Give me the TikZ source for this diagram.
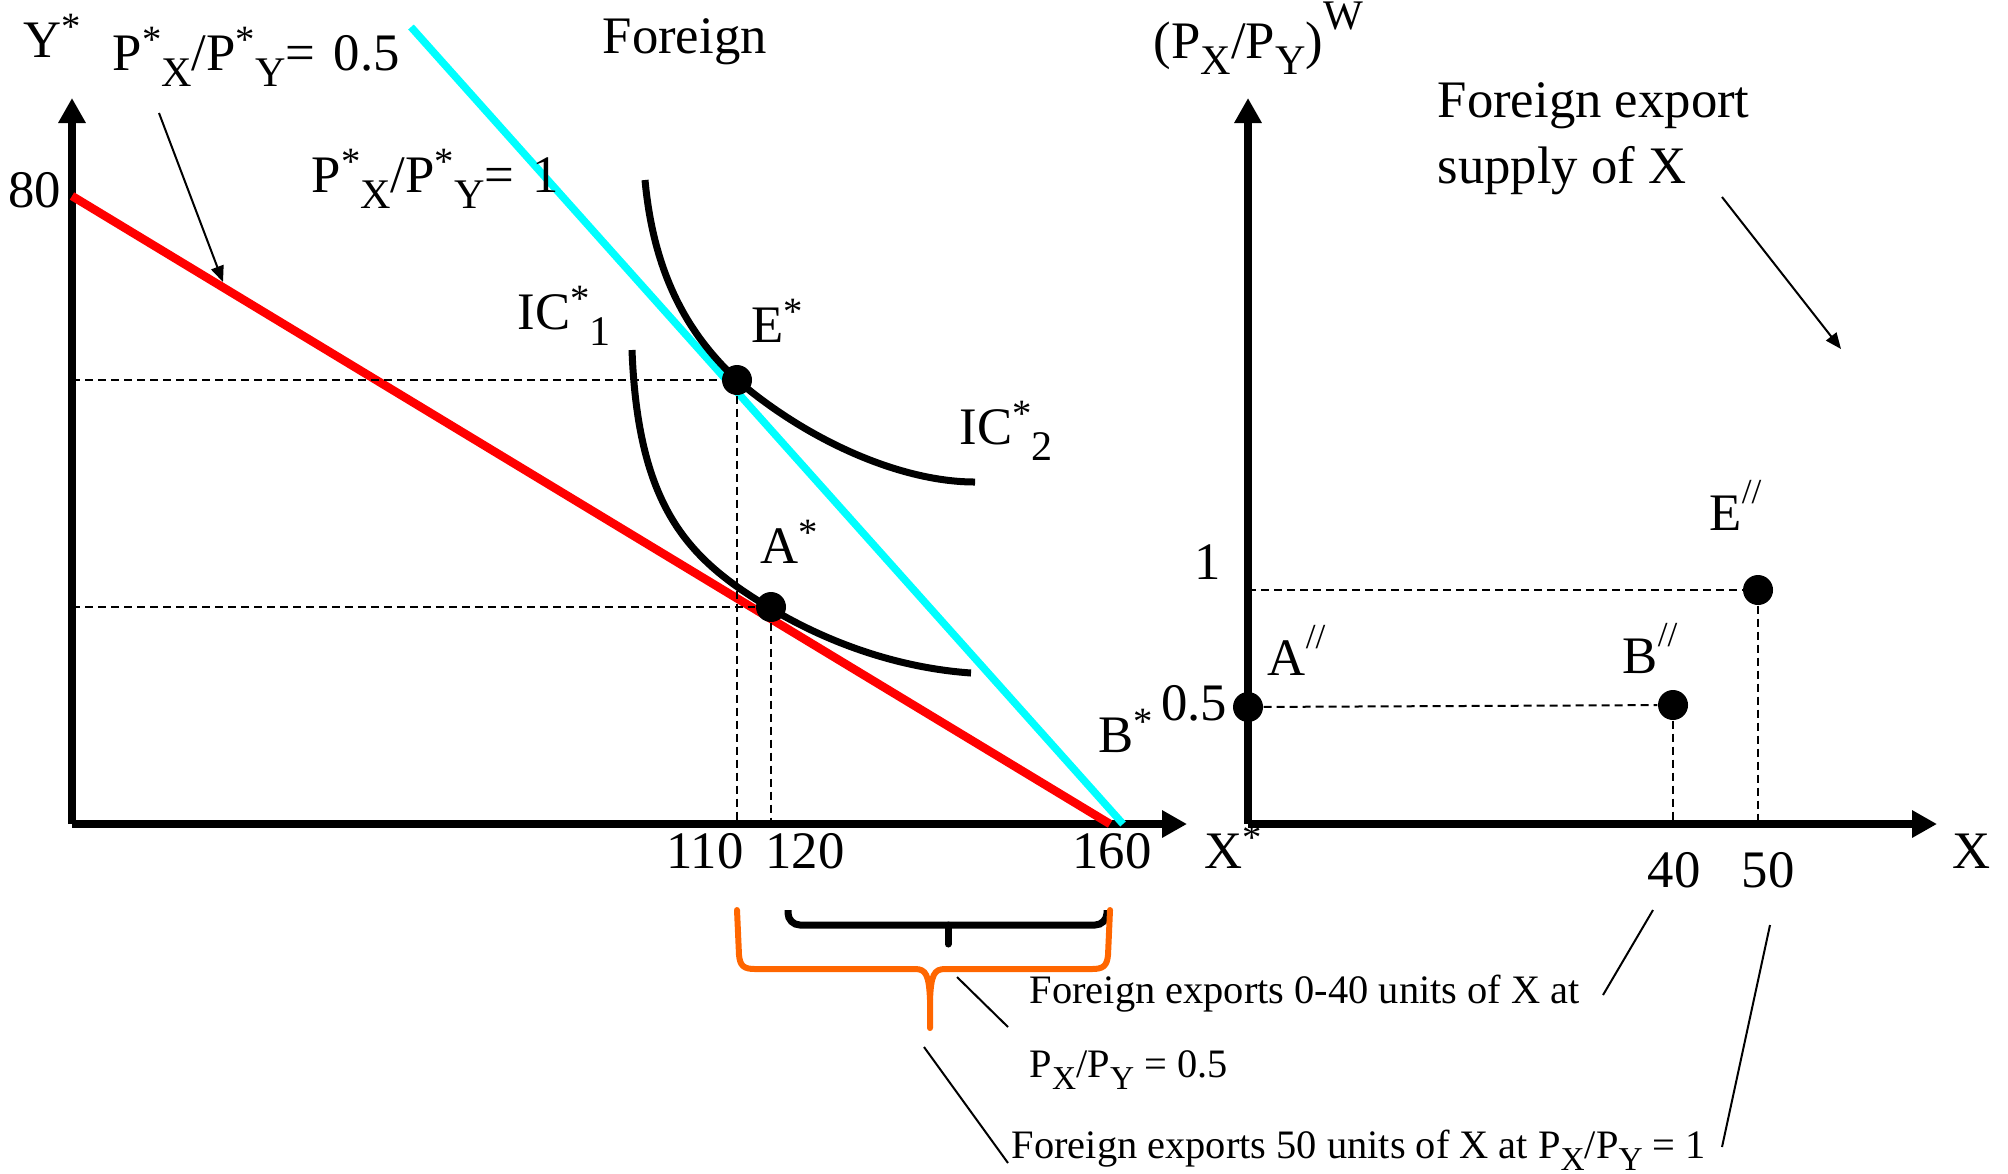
\documentclass[tikz,border=0pt]{standalone}
\usepackage{fontspec}
\setmainfont{Liberation Serif}
\usetikzlibrary{arrows.meta}
\definecolor{myred}{RGB}{255,0,0}
\definecolor{mycyan}{RGB}{0,255,255}
\definecolor{myorange}{RGB}{255,102,0}
\newcommand{\sps}[1]{\raisebox{0.34em}{\fontsize{11pt}{11pt}\selectfont #1}}
\newcommand{\sbs}[1]{\raisebox{-0.32em}{\fontsize{12pt}{12pt}\selectfont #1}}
\newcommand{\dbl}{\raisebox{0.5em}{\fontsize{10pt}{10pt}\selectfont //}}
\newcommand{\ssbs}[1]{\raisebox{-0.3em}{\fontsize{9.5pt}{9.5pt}\selectfont #1}}
\begin{document}
\begin{tikzpicture}[x=0.1mm,y=-0.1mm,
  axis/.style={line width=0.8mm,-{Triangle[length=2.5mm,width=2.6mm]}},
  guide/.style={line width=0.2mm,dash pattern=on 0.8mm off 0.5mm},
  budget/.style={line width=0.85mm},
  icurve/.style={line width=0.7mm},
  pointer/.style={line width=0.2mm},
  ptarrow/.style={line width=0.2mm,-{Triangle[length=1.6mm,width=1.3mm]}},
  eqdot/.style={circle,fill=black,inner sep=0,minimum size=3mm},
  lbl/.style={inner sep=0,anchor=base west,font=\fontsize{15pt}{18pt}\selectfont},
  small/.style={inner sep=0,anchor=base west,font=\fontsize{11.5pt}{14pt}\selectfont},
  blackbr/.style={line width=0.7mm},
  orangebr/.style={line width=0.6mm,draw=myorange,line cap=round}
]
\useasboundingbox (0,0) rectangle (2008,1173);
% coordinates
\coordinate (O1) at (72,824);
\coordinate (Y1) at (72,98);
\coordinate (X1) at (1187,824);
\coordinate (O2) at (1248,824);
\coordinate (Y2) at (1248,98);
\coordinate (X2) at (1937,824);
\coordinate (R0) at (72,196);
\coordinate (R1) at (1110,824);
\coordinate (C0) at (411,27);
\coordinate (C1) at (1123,824);
% axes
\draw[axis] (O1) -- (Y1);
\draw[axis] (O1) -- (X1);
\draw[axis] (O2) -- (Y2);
\draw[axis] (O2) -- (X2);
% budget lines
\draw[budget,myred] (R0) -- (R1);
\draw[budget,mycyan,line width=0.75mm] (C0) -- (C1);
% indifference curves
\draw[icurve] (645,180) .. controls (655,290) and (700,345) .. (737,380)
  .. controls (807,440) and (900,482) .. (975,482);
\draw[icurve] (632,350) .. controls (638,510) and (690,560) .. (770,608)
  .. controls (830,644) and (900,668) .. (971,673);
% dots
\node[eqdot] (Es) at (737,380) {};
\node[eqdot] (As) at (771,607) {};
\node[eqdot] (Aa) at (1248,707) {};
\node[eqdot] (Bb) at (1673,705) {};
\node[eqdot] (Ee) at (1758,590) {};
% guides
\draw[guide] (Es -| O1) -- (Es);
\draw[guide] (Es) -- (Es |- O1);
\draw[guide] (As -| O1) -- (As);
\draw[guide] (As) -- (As |- O1);
\draw[guide] (Aa) -- (Bb);
\draw[guide] (Bb) -- (Bb |- O2);
\draw[guide] (Ee -| O2) -- (Ee);
\draw[guide] (Ee) -- (Ee |- O2);
% left labels
\node[lbl] (Ylab) at (23,57) {Y\sps{*}};
\node[lbl,anchor=base east] (lab80) at (62,207) {80};
\node[lbl] (pr05) at (112,70) {P\sps{*}\sbs{X}/P\sps{*}\sbs{Y}=\hspace{0.35em}0.5};
\node[lbl] (pr1) at (311,192) {P\sps{*}\sbs{X}/P\sps{*}\sbs{Y}=\hspace{0.35em}1};
\node[lbl] (title) at (602,53) {Foreign};
\node[lbl] (ic1) at (517,329) {IC\sps{*}\sbs{1}};
\node[lbl] (eslab) at (751,342) {E\sps{*}};
\node[lbl] (ic2) at (959,444) {IC\sps{*}\sbs{2}};
\node[lbl] (aslab) at (760,563) {A\sps{*}};
\node[lbl] (bslab) at (1098,752) {B\sps{*}};
\node[lbl,anchor=base] (t110) at (705,868) {110};
\node[lbl,anchor=base] (t120) at (805,868) {120};
\node[lbl,anchor=base] (t160) at (1112,868) {160};
\node[lbl] (xslab) at (1204,868) {X\sps{*}};
% right labels
\node[lbl] (pw) at (1153,58) {(P\sbs{X}/P\sbs{Y})\raisebox{0.55em}{\fontsize{12pt}{12pt}\selectfont W}};
\node[lbl] (sup1) at (1437,117) {Foreign export};
\node[lbl] (sup2) at (1437,183) {supply of X};
\node[lbl,anchor=base east] (r1) at (1222,579) {1};
\node[lbl,anchor=base east] (r05) at (1228,720) {0.5};
\node[lbl] (aal) at (1267,675) {A\dbl};
\node[lbl] (bbl) at (1622,673) {B\dbl};
\node[lbl] (eel) at (1709,530) {E\dbl};
\node[lbl,anchor=base] (t40) at (1674,887) {40};
\node[lbl,anchor=base] (t50) at (1768,887) {50};
\node[lbl] (xlab) at (1952,868) {X};
% bottom texts
\node[small] (txt1) at (1029,1003) {Foreign exports 0-40 units of X at};
\node[small] (txt2) at (1029,1077) {P\ssbs{X}/P\ssbs{Y} = 0.5};
\node[small] (txt3) at (1011,1158) {Foreign exports 50 units of X at P\ssbs{X}/P\ssbs{Y} = 1};
% arrows
\coordinate (a1s) at (159,113);
\coordinate (a1e) at (223,282);
\draw[ptarrow] (a1s) -- (a1e);
\coordinate (a2s) at (1722,197);
\coordinate (a2e) at (1841,349);
\draw[ptarrow] (a2s) -- (a2e);
% brackets
\draw[blackbr,rounded corners=1.2mm] (788,910) -- (788,925) -- (1107,925) -- (1107,910);
\draw[blackbr,line cap=round] (948,925) -- (948,944);
\draw[orangebr] (737,910) -- (739,955) .. controls (740,966) and (744,969) .. (755,969) -- (915,969) .. controls (926,969) and (929,975) .. (930,1000) -- (930,1028);
\draw[orangebr] (1110,910) -- (1108,955) .. controls (1107,966) and (1103,969) .. (1092,969) -- (945,969) .. controls (934,969) and (931,975) .. (930,1000);
% pointers
\coordinate (p1a) at (957,977);
\coordinate (p1b) at (1008,1027);
\draw[pointer] (p1a) -- (p1b);
\coordinate (p2a) at (924,1047);
\coordinate (p2b) at (1008,1163);
\draw[pointer] (p2a) -- (p2b);
\coordinate (p3a) at (1653,910);
\coordinate (p3b) at (1603,995);
\draw[pointer] (p3a) -- (p3b);
\coordinate (p4a) at (1770,925);
\coordinate (p4b) at (1722,1147);
\draw[pointer] (p4a) -- (p4b);
\end{tikzpicture}
\end{document}
